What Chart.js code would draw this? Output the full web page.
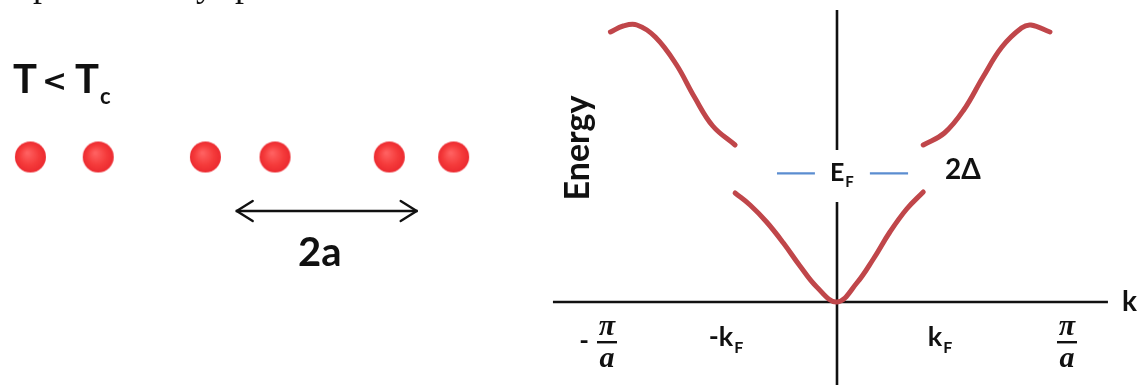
<!DOCTYPE html>
<html>
<head>
<meta charset="utf-8">
<script src="https://cdn.jsdelivr.net/npm/chart.js@4.4.1/dist/chart.umd.min.js"></script>
<style>
  html, body { margin: 0; padding: 0; background: #fff; }
  #wrap { position: relative; width: 1144px; height: 385px; overflow: hidden; background: #fff; }
  #chain { position: absolute; left: 0; top: 0; }
  #bands { position: absolute; left: 540px; top: 0; }
</style>
</head>
<body>
<div id="wrap">
  <canvas id="chain" width="540" height="385"></canvas>
  <canvas id="bands" width="604" height="385"></canvas>
</div>
<script>
// ---- Dimerised chain (positions in units of the lattice constant a) ----
const atomPositions = [0.334, 1.079, 2.257, 3.022, 4.278, 4.985];
const periodArrow = [2.59, 4.59];          // spans the new period 2a
const periodLabel = '2a';
const phaseLabel = ['T', '<', 'T', 'c'];    // T < T_c

// ---- Band structure: k in units of π/a, energy in arbitrary units ----
const upperLeftK  = [-0.985, -0.93, -0.87, -0.79, -0.70, -0.62, -0.54, -0.443];
const upperLeftE  = [ 2.70,  2.76,  2.77,  2.65,  2.38,  2.05,  1.76,  1.57];
const upperRightK = [0.375, 0.467, 0.551, 0.635, 0.717, 0.802, 0.843, 0.926];
const upperRightE = [1.57,  1.69,  1.92,  2.25,  2.55,  2.74,  2.77,  2.70];
const lowerK = [-0.443, -0.378, -0.306, -0.233, -0.161, -0.088, 0, 0.086, 0.158, 0.23, 0.303, 0.375];
const lowerE = [ 1.09,   0.97,   0.80,   0.59,   0.36,   0.15,  0, 0.19,  0.43,  0.70, 0.93,  1.10];

const fermiLevel = 1.287;
const fermiDashLeft  = [-0.261, -0.096];
const fermiDashRight = [0.143, 0.309];

const kAxisRange = [-1.235, 1.178];
const energyAxisUpper = [1.52, 2.92];
const energyAxisLower = [-0.9, 1.0];

const tickValues = [-1, -0.5, 0.5, 1];
const tickLabels = ['-π/a', '-k_F', 'k_F', 'π/a'];

const zip = (xs, ys) => xs.map((v, i) => ({ x: v, y: ys[i] }));

const INK = '#111111';
const BAND = '#c0464a';
const FERMI = '#5b8dd0';
const SANS = 'Lato, "Open Sans", sans-serif';
const SERIF = '"Liberation Serif", "DejaVu Serif", serif';

const common = {
  responsive: false,
  animation: false,
  devicePixelRatio: 1,
  events: [],
  layout: { padding: 0, autoPadding: false },
  plugins: { legend: { display: false }, tooltip: { enabled: false } }
};

// text with a trailing subscript, left edge at x, baseline at y
function drawSub(ctx, main, sub, x, y, mainSize, subSize, subDrop) {
  ctx.textAlign = 'left';
  ctx.textBaseline = 'alphabetic';
  ctx.font = `bold ${mainSize}px ${SANS}`;
  const w = ctx.measureText(main).width;
  ctx.fillText(main, x, y);
  ctx.font = `bold ${subSize}px ${SANS}`;
  ctx.fillText(sub, x + w + 1, y + subDrop);
}
function subWidth(ctx, main, sub, mainSize, subSize) {
  ctx.font = `bold ${mainSize}px ${SANS}`;
  const w = ctx.measureText(main).width;
  ctx.font = `bold ${subSize}px ${SANS}`;
  return w + 1 + ctx.measureText(sub).width;
}

// ---------------- left panel: atoms ----------------
// shaded sphere used as the point style of every atom
function makeAtomSprite(r) {
  const c = document.createElement('canvas');
  const s = Math.ceil(2 * r + 2);
  c.width = s; c.height = s;
  const g2 = c.getContext('2d');
  const m = s / 2;
  const g = g2.createRadialGradient(m - 3, m - 4, 1, m, m, r);
  g.addColorStop(0, '#ff6060');
  g.addColorStop(0.6, '#f53b3b');
  g.addColorStop(1, '#ec2a30');
  g2.fillStyle = g;
  g2.beginPath();
  g2.arc(m, m, r, 0, Math.PI * 2);
  g2.fill();
  return c;
}
const atomSprite = makeAtomSprite(15.5);

const chainDecor = {
  id: 'chainDecor',
  afterDatasetsDraw(chart) {
    const { ctx, scales: { x, y } } = chart;
    ctx.save();
    ctx.fillStyle = INK;
    ctx.strokeStyle = INK;

    // descenders of the line of text above the figure
    ctx.font = `36px "Liberation Serif", serif`;
    ctx.textAlign = 'left';
    ctx.textBaseline = 'alphabetic';
    ctx.fillText('p', 33, -4);
    ctx.fillText('y', 196, -4);
    ctx.fillText('p', 235, -4);

    // phase label  T < T_c
    ctx.font = `bold 40px ${SANS}`;
    ctx.fillText(phaseLabel[0], 13, 93);
    ctx.font = `bold 30px "DejaVu Sans", sans-serif`;
    ctx.fillText(phaseLabel[1], 42, 91);
    drawSub(ctx, phaseLabel[2], phaseLabel[3], 75, 93, 40, 22, 11);

    // arrow heads on the period marker
    const ay = y.getPixelForValue(-0.54);
    const x0 = x.getPixelForValue(periodArrow[0]);
    const x1 = x.getPixelForValue(periodArrow[1]);
    ctx.lineWidth = 2.4;
    ctx.lineCap = 'round';
    ctx.lineJoin = 'round';
    ctx.beginPath();
    ctx.moveTo(x0 + 17, ay - 10); ctx.lineTo(x0 + 1, ay); ctx.lineTo(x0 + 17, ay + 10);
    ctx.moveTo(x1 - 17, ay - 10); ctx.lineTo(x1 - 1, ay); ctx.lineTo(x1 - 17, ay + 10);
    ctx.stroke();

    // period label
    ctx.font = `bold 40px ${SANS}`;
    ctx.textAlign = 'center';
    ctx.fillText(periodLabel, (x0 + x1) / 2 - 7, 266);
    ctx.restore();
  }
};

new Chart(document.getElementById('chain'), {
  type: 'scatter',
  data: {
    datasets: [
      {
        data: atomPositions.map(p => ({ x: p, y: 0 })),
        pointRadius: 15.5,
        pointStyle: atomSprite,
        clip: false
      },
      {
        data: periodArrow.map(p => ({ x: p, y: -0.54 })),
        showLine: true,
        borderColor: INK,
        borderWidth: 2.4,
        pointRadius: 0
      }
    ]
  },
  options: {
    ...common,
    scales: {
      x: { type: 'linear', min: 0, max: 5.934, display: false },
      y: { type: 'linear', min: -2.28, max: 1.57, display: false }
    }
  },
  plugins: [chainDecor]
});

// ---------------- right panel: band structure ----------------
const bandDecor = {
  id: 'bandDecor',
  afterDatasetsDraw(chart) {
    const { ctx, scales: { x, y } } = chart;
    const y0 = y.getPixelForValue(0);
    ctx.save();
    ctx.fillStyle = INK;

    // tick labels along the k axis
    const nudge = [0, 4, -12, 0];
    tickValues.forEach((v, i) => {
      const cx = x.getPixelForValue(v) + nudge[i];
      const lab = tickLabels[i];
      if (lab.includes('/')) {
        const neg = lab.startsWith('-');
        const [num, den] = lab.replace('-', '').split('/');
        ctx.font = `italic bold 30px ${SERIF}`;
        ctx.textAlign = 'center';
        ctx.textBaseline = 'alphabetic';
        ctx.fillText(num, cx, y0 + 33);
        ctx.fillRect(cx - 10, y0 + 39, 20, 2.4);
        ctx.fillText(den, cx, y0 + 65);
        if (neg) {
          ctx.font = `bold 26px ${SANS}`;
          ctx.textBaseline = 'middle';
          ctx.fillText('-', cx - 23, y0 + 40);
        }
      } else {
        const [main, sub] = lab.split('_');
        const w = subWidth(ctx, main, sub, 27, 16);
        drawSub(ctx, main, sub, cx - w / 2, y0 + 44, 27, 16, 7);
      }
    });

    // axis letter
    ctx.font = `bold 28px ${SANS}`;
    ctx.textAlign = 'left';
    ctx.textBaseline = 'alphabetic';
    ctx.fillText('k', x.getPixelForValue(kAxisRange[1]) + 14, y0 + 9);

    // Fermi level and gap labels
    drawSub(ctx, 'E', 'F', x.getPixelForValue(0) - 7, y.getPixelForValue(fermiLevel) + 8, 25, 15, 6);
    ctx.font = `bold 28px ${SANS}`;
    ctx.fillText('2Δ', x.getPixelForValue(fermiDashRight[1]) + 37, y.getPixelForValue(fermiLevel) + 6);

    // energy axis title
    ctx.translate(x.left + 49, 148);
    ctx.rotate(-Math.PI / 2);
    ctx.font = `bold 34px ${SANS}`;
    ctx.textAlign = 'center';
    ctx.fillText('Energy', 0, 0);
    ctx.restore();
  }
};

const bandLine = (k, e) => ({
  data: zip(k, e),
  showLine: true,
  borderColor: BAND,
  borderWidth: 5,
  borderCapStyle: 'round',
  tension: 0.4,
  pointRadius: 0
});
const straight = (pts, color, width) => ({
  data: pts,
  showLine: true,
  borderColor: color,
  borderWidth: width,
  pointRadius: 0
});

new Chart(document.getElementById('bands'), {
  type: 'scatter',
  data: {
    datasets: [
      bandLine(lowerK, lowerE),
      bandLine(upperLeftK, upperLeftE),
      bandLine(upperRightK, upperRightE),
      straight(kAxisRange.map(k => ({ x: k, y: 0 })), INK, 2.6),
      straight(energyAxisUpper.map(e => ({ x: 0, y: e })), INK, 2.6),
      straight(energyAxisLower.map(e => ({ x: 0, y: e })), INK, 2.6),
      straight(fermiDashLeft.map(k => ({ x: k, y: fermiLevel })), FERMI, 2.2),
      straight(fermiDashRight.map(k => ({ x: k, y: fermiLevel })), FERMI, 2.2)
    ]
  },
  options: {
    ...common,
    scales: {
      x: { type: 'linear', min: -1.2913, max: 1.3348, display: false },
      y: { type: 'linear', min: -0.83, max: 3.02, display: false }
    }
  },
  plugins: [bandDecor]
});
</script>
</body>
</html>
